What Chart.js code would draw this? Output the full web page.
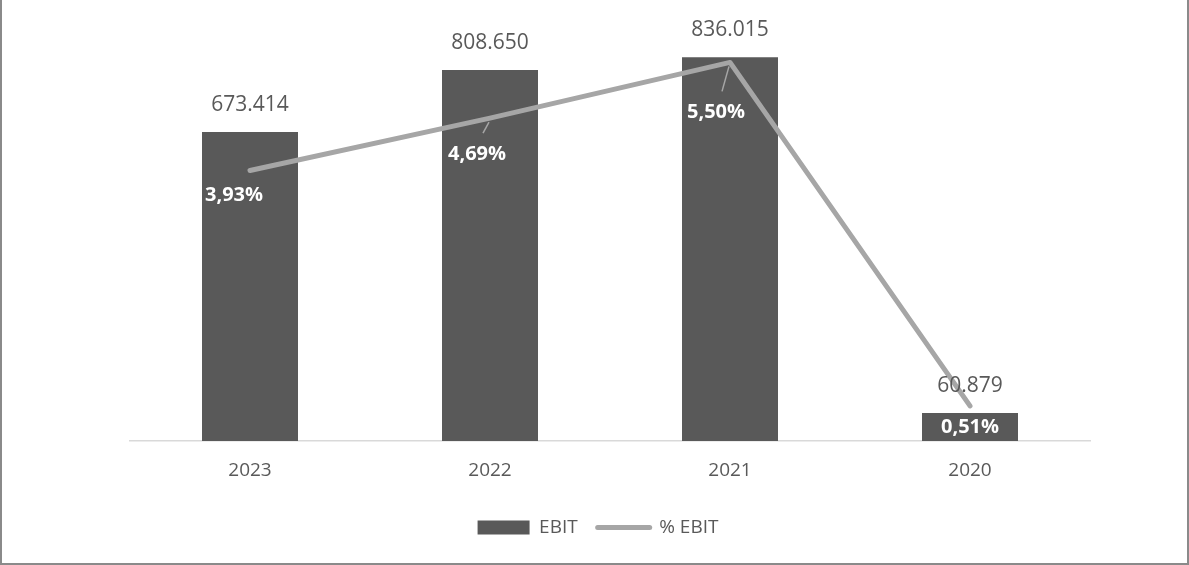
<!DOCTYPE html>
<html>
<head>
<meta charset="utf-8">
<script src="https://cdn.jsdelivr.net/npm/chart.js@4.4.0/dist/chart.umd.min.js"></script>
<style>
html,body{margin:0;padding:0;background:#fff}
#wrap{width:1189px;height:565px;position:relative}
</style>
</head>
<body>
<div id="wrap"><canvas id="myChart"></canvas></div>
<script>
// data
var years = ["2023", "2022", "2021", "2020"];
var ebit = [673414, 808650, 836015, 60879];
var ebitPct = [3.93, 4.69, 5.50, 0.51];
var ebitRange = [0, 900000];   // hidden primary axis
var pctRange = [0, 6];         // hidden secondary axis

var barColor = '#595959';
var lineColor = '#a6a6a6';
var textColor = '#595959';

// where each % label sits relative to its point [dx, dy, leader line]
var pctLabelPos = [[-16, 25, false], [-13, 36, true], [-14, 50, true], [0, 21, false]];

function fmtNum(v) {
    return String(v).replace(/\B(?=(\d{3})+(?!\d))/g, '.');
}
function fmtPct(v) {
    return v.toFixed(2).replace('.', ',') + '%';
}

var labelPlugin = {
    id: 'valueLabels',
    afterDatasetsDraw: function(chart) {
        var ctx = chart.ctx;
        var bars = chart.getDatasetMeta(0).data;
        var pts = chart.getDatasetMeta(1).data;
        ctx.save();
        ctx.textAlign = 'center';
        ctx.textBaseline = 'middle';
        ctx.font = '21px "Open Sans"';
        ctx.fillStyle = textColor;
        bars.forEach(function(b, i) {
            ctx.fillText(fmtNum(ebit[i]), b.x, b.y - 27);
        });
        ctx.font = 'bold 20px "Open Sans"';
        pts.forEach(function(p, i) {
            var o = pctLabelPos[i];
            var lx = p.x + o[0], ly = p.y + o[1];
            if (o[2]) {
                ctx.strokeStyle = lineColor;
                ctx.lineWidth = 1.5;
                ctx.beginPath();
                ctx.moveTo(p.x - 1, p.y + 4);
                ctx.lineTo(lx + 6, ly - 21);
                ctx.stroke();
            }
            ctx.fillStyle = '#ffffff';
            ctx.fillText(fmtPct(ebitPct[i]), lx, ly);
        });
        ctx.restore();
    }
};

var framePlugin = {
    id: 'frame',
    afterDraw: function(chart) {
        var ctx = chart.ctx;
        ctx.save();
        ctx.strokeStyle = '#8a8a8a';
        ctx.lineWidth = 2;
        ctx.beginPath();
        ctx.moveTo(1, 0);
        ctx.lineTo(1, 564);
        ctx.lineTo(1188, 564);
        ctx.lineTo(1188, 0);
        ctx.stroke();
        ctx.restore();
    }
};

var myChart = new Chart(document.getElementById('myChart'), {
    type: 'bar',
    data: {
        labels: years,
        datasets: [{
            label: 'EBIT',
            data: ebit,
            backgroundColor: barColor,
            barPercentage: 0.5,
            categoryPercentage: 0.8,
            yAxisID: 'y',
            order: 1
        }, {
            type: 'line',
            label: '% EBIT',
            data: ebitPct,
            borderColor: lineColor,
            borderWidth: 5,
            borderCapStyle: 'round',
            borderJoinStyle: 'round',
            pointRadius: 0,
            tension: 0,
            yAxisID: 'y2',
            order: 0
        }]
    },
    plugins: [labelPlugin, framePlugin],
    options: {
        responsive: true,
        maintainAspectRatio: false,
        animation: false,
        layout: {
            padding: {left: 106, right: 99, top: 28, bottom: 18}
        },
        scales: {
            x: {
                grid: {display: false},
                border: {color: '#d9d9d9', width: 1.5},
                ticks: {color: textColor, font: {family: 'Open Sans', size: 19}, padding: 10},
                afterFit: function(s) { s.height = 57; }
            },
            y: {
                min: ebitRange[0],
                max: ebitRange[1],
                grid: {display: false},
                border: {display: false},
                ticks: {display: false},
                afterFit: function(s) { s.width = 24; }
            },
            y2: {
                display: false,
                min: pctRange[0],
                max: pctRange[1]
            }
        },
        plugins: {
            tooltip: {enabled: false},
            legend: {
                position: 'bottom',
                labels: {
                    usePointStyle: true,
                    pointStyleWidth: 52,
                    boxHeight: 14,
                    padding: 20,
                    color: textColor,
                    font: {family: 'Open Sans', size: 19},
                    generateLabels: function() {
                        return [{
                            text: 'EBIT', fillStyle: barColor, strokeStyle: barColor,
                            lineWidth: 0, pointStyle: 'rect', datasetIndex: 0, fontColor: textColor
                        }, {
                            text: '% EBIT', fillStyle: lineColor, strokeStyle: lineColor,
                            lineWidth: 5, lineCap: 'round', pointStyle: 'line', datasetIndex: 1, fontColor: textColor
                        }];
                    }
                }
            }
        }
    }
});
</script>
</body>
</html>
